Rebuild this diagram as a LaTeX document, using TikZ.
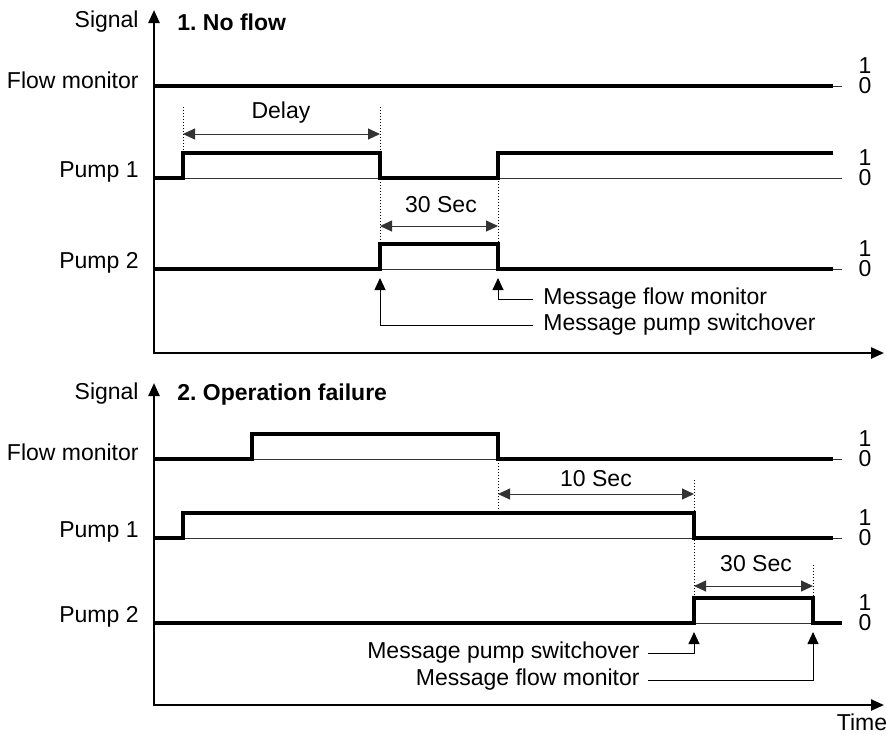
\documentclass[tikz,border=0pt]{standalone}
\usepackage{fontspec}
\setmainfont{Liberation Sans}
\usetikzlibrary{arrows.meta, positioning}
\frenchspacing

\begin{document}
\begin{tikzpicture}[
  x=0.5pt, y=-0.5pt,
  font=\fontsize{11.5}{13}\selectfont,
  wave/.style={line width=2.2pt, line join=miter},
  base/.style={line width=0.5pt, black!80},
  guide/.style={densely dotted, line width=0.5pt},
  dimline/.style={line width=0.5pt, black!80, {Triangle[length=6pt,width=5.5pt]}-{Triangle[length=6pt,width=5.5pt]}},
  msg/.style={line width=0.5pt, -{Triangle[length=6pt,width=5.5pt]}},
  axis/.style={line width=1.2pt, {Triangle[length=6.5pt,width=5.5pt]}-{Triangle[length=6.5pt,width=5.5pt]}},
  sig/.style={anchor=east, inner sep=0pt},
  ttl/.style={anchor=west, inner sep=0pt, font=\fontsize{11.5}{13}\selectfont\bfseries}
]
  \useasboundingbox (0,0) rectangle (886,735);

  % 1. No flow
  \draw[axis] (154,10) -- (154,353) -- (884,353);
  \node[sig] (signal1) at (139,22) {Signal};
  \node[ttl] (title1) at (177,22) {1. No flow};
  \node[sig] (flow1) at (139,80) {Flow monitor};
  \node[sig] (pumpa1) at (139,172) {Pump 1};
  \node[sig] (pumpb1) at (139,263) {Pump 2};

  \foreach \y in {86,178,269} {
    \draw[base] (154,\y) -- (842,\y);
    \node[inner sep=0pt] (one\y) at (865,\y-20) {1};
    \node[inner sep=0pt] (zero\y) at (865,\y) {0};
  }

  \draw[wave] (154,86) -- (833,86);
  \draw[wave] (154,178) -- (183,178) -- (183,153) -- (380,153) -- (380,178) -- (498,178) -- (498,153) -- (833,153);
  \draw[wave] (154,269) -- (380,269) -- (380,244) -- (498,244) -- (498,269) -- (833,269);

  \draw[guide] (183,107) -- (183,153);
  \draw[guide] (380,107) -- (380,244);
  \draw[guide] (498,178) -- (498,244);

  \coordinate (delayl) at (183,134);
  \coordinate (delayr) at (380,134);
  \draw[dimline] (delayl) -- (delayr);
  \node (delay) at (281,113) {Delay};
  \coordinate (secl1) at (380,226);
  \coordinate (secr1) at (498,226);
  \draw[dimline] (secl1) -- (secr1);
  \node (sec1) at (441,205) {30 Sec};

  \node[anchor=west, inner sep=0pt] (msgflow1) at (543,299) {Message flow monitor};
  \node[anchor=west, inner sep=0pt] (msgswitch1) at (543,325) {Message pump switchover};
  \coordinate (tipflow1) at (498,278);
  \coordinate (tipswitch1) at (380,278);
  \draw[msg] ([xshift=-5pt]msgflow1.west) -| (tipflow1);
  \draw[msg] ([xshift=-5pt]msgswitch1.west) -| (tipswitch1);

  % 2. Operation failure
  \draw[axis] (154,383) -- (154,705) -- (884,705);
  \node[sig] (signal2) at (139,394) {Signal};
  \node[ttl] (title2) at (177,395) {2. Operation failure};
  \node[sig] (flow2) at (139,452) {Flow monitor};
  \node[sig] (pumpa2) at (139,532) {Pump 1};
  \node[sig] (pumpb2) at (139,617) {Pump 2};
  \node (time) at (862,722) {Time};

  \foreach \y in {459,538,623} {
    \draw[base] (154,\y) -- (842,\y);
    \node[inner sep=0pt] (one\y) at (865,\y-20) {1};
    \node[inner sep=0pt] (zero\y) at (865,\y) {0};
  }

  \draw[wave] (154,459) -- (252,459) -- (252,434) -- (498,434) -- (498,459) -- (833,459);
  \draw[wave] (154,538) -- (183,538) -- (183,513) -- (694,513) -- (694,538) -- (833,538);
  \draw[wave] (154,623) -- (694,623) -- (694,598) -- (813,598) -- (813,623) -- (842,623);

  \draw[guide] (498,460) -- (498,513);
  \draw[guide] (694,480) -- (694,598);
  \draw[guide] (813,565) -- (813,598);

  \coordinate (tenl) at (498,494);
  \coordinate (tenr) at (694,494);
  \draw[dimline] (tenl) -- (tenr);
  \node (ten) at (596,479) {10 Sec};
  \coordinate (secl2) at (694,586);
  \coordinate (secr2) at (813,586);
  \draw[dimline] (secl2) -- (secr2);
  \node (sec2) at (756,564) {30 Sec};

  \node[anchor=east, inner sep=0pt] (msgswitch2) at (640,653) {Message pump switchover};
  \node[anchor=east, inner sep=0pt] (msgflow2) at (640,680) {Message flow monitor};
  \coordinate (tipswitch2) at (694,632);
  \coordinate (tipflow2) at (813,632);
  \draw[msg] ([xshift=4pt]msgswitch2.east) -| (tipswitch2);
  \draw[msg] ([xshift=4pt]msgflow2.east) -| (tipflow2);
\end{tikzpicture}
\end{document}
